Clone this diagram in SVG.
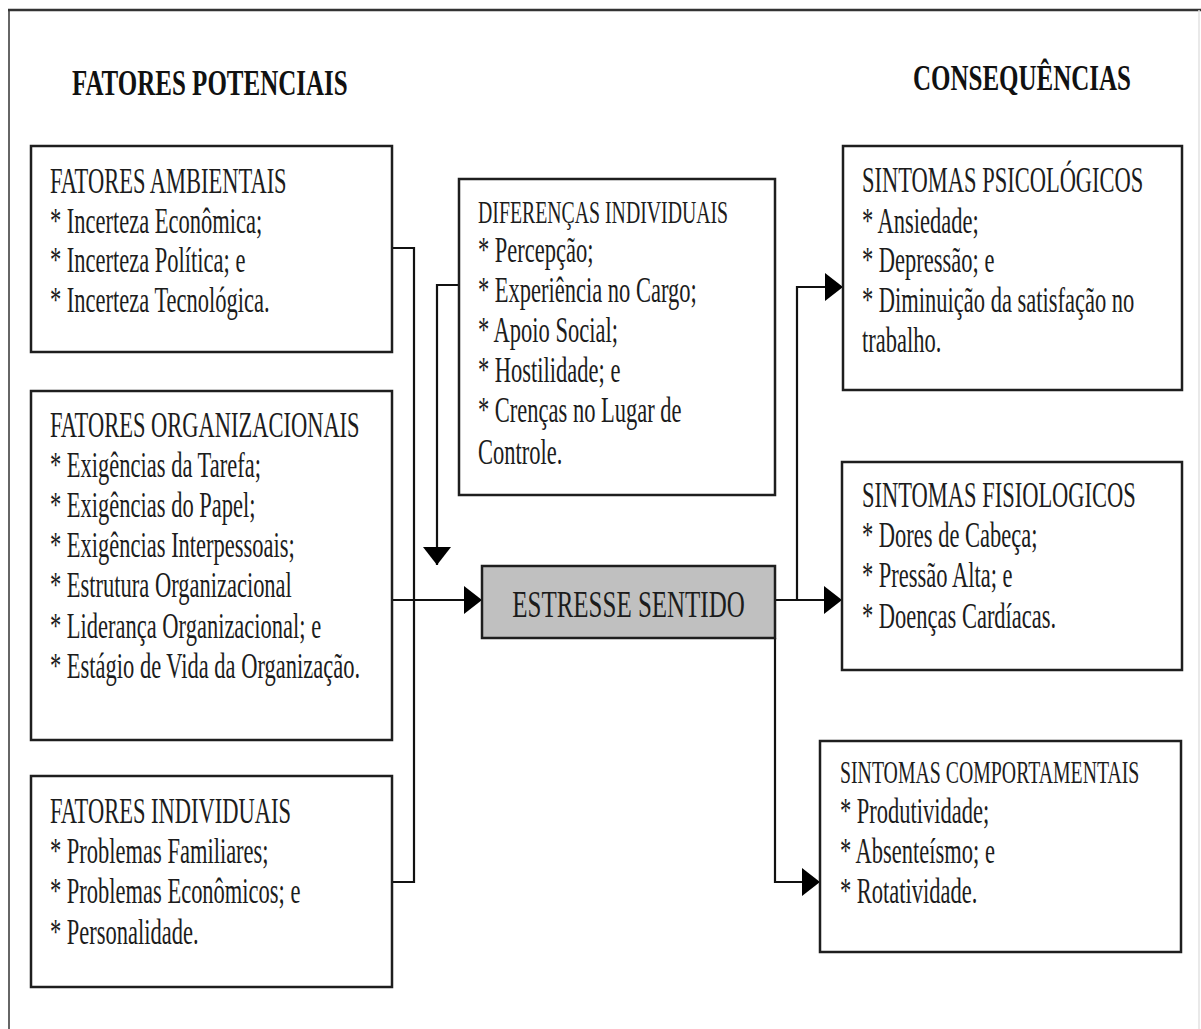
<svg xmlns="http://www.w3.org/2000/svg" width="1201" height="1029" viewBox="0 0 1201 1029">
<defs>
<style>
.box{fill:#fff;stroke:#1e1e1e;stroke-width:2.5}
.gray{fill:#c0c0c0;stroke:#1e1e1e;stroke-width:2.5}
.t{font-family:"Liberation Serif","Times New Roman",serif;font-size:22.5px;fill:#1c1c1c}
.ts{font-family:"Liberation Serif","Times New Roman",serif;font-size:19.8px;fill:#1c1c1c}
.tb{font-family:"Liberation Serif","Times New Roman",serif;font-size:25px;font-weight:bold;fill:#111}
.tc{font-family:"Liberation Serif","Times New Roman",serif;font-size:25px;fill:#1c1c1c}
.c{fill:none;stroke:#111;stroke-width:2.2}
</style>
<marker id="ah" viewBox="0 0 18 28" refX="18" refY="14" markerWidth="18" markerHeight="28" markerUnits="userSpaceOnUse" orient="auto">
<path d="M0,0 L18,14 L0,28 z" fill="#000"/>
</marker>
</defs>
<rect width="1201" height="1029" fill="#fff"/>
<g id="frame">
<line x1="9" y1="10" x2="9" y2="1029" stroke="#666" stroke-width="2"/>
<line x1="8" y1="10" x2="1201" y2="10" stroke="#333" stroke-width="2.5"/>
<line x1="1199" y1="10" x2="1199" y2="1029" stroke="#e2e2e2" stroke-width="1.5"/>
</g>
<g id="headers">
<text class="tb" transform="translate(72,95) scale(1,1.45)">FATORES POTENCIAIS</text>
<text class="tb" transform="translate(913,90) scale(1,1.45)">CONSEQUÊNCIAS</text>
</g>
<g id="connectors">
<path class="c" d="M392,248 H414 V882 H392"/>
<path class="c" d="M392,600 H482" marker-end="url(#ah)"/>
<path class="c" d="M459,285 H437 V565" marker-end="url(#ah)"/>
<path class="c" d="M775,600 H842" marker-end="url(#ah)"/>
<path class="c" d="M797,600 V287 H843" marker-end="url(#ah)"/>
<path class="c" d="M775,638 V882 H820" marker-end="url(#ah)"/>
</g>
<g id="ambientais">
<rect class="box" x="31" y="146" width="361" height="206"/>
<text class="t" transform="translate(50,193) scale(1,1.55)">FATORES AMBIENTAIS</text>
<text class="t" transform="translate(50,233) scale(1,1.55)">* Incerteza Econômica;</text>
<text class="t" transform="translate(50,272) scale(1,1.55)">* Incerteza Política; e</text>
<text class="t" transform="translate(50,312) scale(1,1.55)">* Incerteza Tecnológica.</text>
</g>
<g id="organizacionais">
<rect class="box" x="31" y="391" width="361" height="349"/>
<text class="t" transform="translate(50,437) scale(1,1.55)">FATORES ORGANIZACIONAIS</text>
<text class="t" transform="translate(50,477) scale(1,1.55)">* Exigências da Tarefa;</text>
<text class="t" transform="translate(50,517) scale(1,1.55)">* Exigências do Papel;</text>
<text class="t" transform="translate(50,557) scale(1,1.55)">* Exigências Interpessoais;</text>
<text class="t" transform="translate(50,597) scale(1,1.55)">* Estrutura Organizacional</text>
<text class="t" transform="translate(50,638) scale(1,1.55)">* Liderança Organizacional; e</text>
<text class="t" transform="translate(50,678) scale(1,1.55)">* Estágio de Vida da Organização.</text>
</g>
<g id="individuais">
<rect class="box" x="31" y="776" width="361" height="211"/>
<text class="t" transform="translate(50,823) scale(1,1.55)">FATORES INDIVIDUAIS</text>
<text class="t" transform="translate(50,863) scale(1,1.55)">* Problemas Familiares;</text>
<text class="t" transform="translate(50,903) scale(1,1.55)">* Problemas Econômicos; e</text>
<text class="t" transform="translate(50,944) scale(1,1.55)">* Personalidade.</text>
</g>
<g id="diferencas">
<rect class="box" x="459" y="179" width="316" height="316"/>
<text class="ts" transform="translate(478,223) scale(1,1.55)">DIFERENÇAS INDIVIDUAIS</text>
<text class="t" transform="translate(478,262) scale(1,1.55)">* Percepção;</text>
<text class="t" transform="translate(478,302) scale(1,1.55)">* Experiência no Cargo;</text>
<text class="t" transform="translate(478,342) scale(1,1.55)">* Apoio Social;</text>
<text class="t" transform="translate(478,382) scale(1,1.55)">* Hostilidade; e</text>
<text class="t" transform="translate(478,422) scale(1,1.55)">* Crenças no Lugar de</text>
<text class="t" transform="translate(478,464) scale(1,1.55)">Controle.</text>
</g>
<g id="estresse">
<rect class="gray" x="482" y="566" width="293" height="72"/>
<text class="tc" text-anchor="middle" transform="translate(628.5,617) scale(1,1.55)">ESTRESSE SENTIDO</text>
</g>
<g id="psicologicos">
<rect class="box" x="843" y="146" width="339" height="244"/>
<text class="t" transform="translate(862,192) scale(1,1.55)">SINTOMAS PSICOLÓGICOS</text>
<text class="t" transform="translate(862,233) scale(1,1.55)">* Ansiedade;</text>
<text class="t" transform="translate(862,272) scale(1,1.55)">* Depressão; e</text>
<text class="t" transform="translate(862,312) scale(1,1.55)">* Diminuição da satisfação no</text>
<text class="t" transform="translate(862,352) scale(1,1.55)">trabalho.</text>
</g>
<g id="fisiologicos">
<rect class="box" x="842" y="462" width="340" height="208"/>
<text class="t" transform="translate(862,507) scale(1,1.55)">SINTOMAS FISIOLOGICOS</text>
<text class="t" transform="translate(862,547) scale(1,1.55)">* Dores de Cabeça;</text>
<text class="t" transform="translate(862,587) scale(1,1.55)">* Pressão Alta; e</text>
<text class="t" transform="translate(862,628) scale(1,1.55)">* Doenças Cardíacas.</text>
</g>
<g id="comportamentais">
<rect class="box" x="820" y="741" width="361" height="211"/>
<text class="ts" transform="translate(840,783) scale(1,1.55)">SINTOMAS COMPORTAMENTAIS</text>
<text class="t" transform="translate(840,823) scale(1,1.55)">* Produtividade;</text>
<text class="t" transform="translate(840,863) scale(1,1.55)">* Absenteísmo; e</text>
<text class="t" transform="translate(840,903) scale(1,1.55)">* Rotatividade.</text>
</g>
</svg>
